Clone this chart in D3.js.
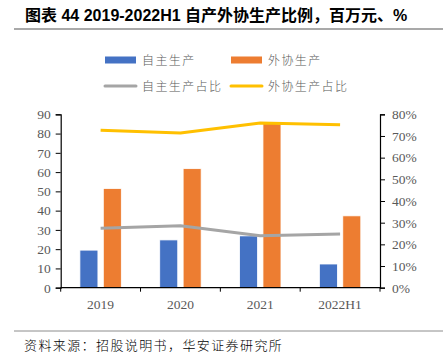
<!DOCTYPE html>
<html><head><meta charset="utf-8">
<script src="https://cdn.jsdelivr.net/npm/d3@7"></script>
<style>
html,body{margin:0;padding:0;background:#fff;}
svg{display:block;}
</style></head>
<body>
<svg id="c" width="443" height="356"></svg>
<script>
const categories = ["2019", "2020", "2021", "2022H1"];
const selfProd = [19.5, 24.8, 26.9, 12.3];
const outProd = [51.5, 61.8, 85.5, 37.3];
const selfShare = [27.4, 28.6, 24.0, 24.8];
const outShare = [72.6, 71.4, 76.0, 75.2];
const leftTicks = [0,10,20,30,40,50,60,70,80,90];
const rightTicks = [0,0.1,0.2,0.3,0.4,0.5,0.6,0.7,0.8];
const seriesNames = ["自主生产", "外协生产", "自主生产占比", "外协生产占比"];
const titleText = "图表 44 2019-2022H1 自产外协生产比例，百万元、%";
const sourceText = "资料来源：招股说明书，华安证券研究所";

const svg = d3.select("#c");
const L = 60.7, R = 380, T = 114.3, B = 287.7;
const cjk = "'Noto Sans CJK SC', sans-serif";
const serif = "'Liberation Serif', 'Times New Roman', serif";
const txtCol = "#595959";

// title
svg.append("text").attr("x", 25).attr("y", 21)
  .style("font-family", "'Liberation Sans', 'Noto Sans CJK SC', sans-serif")
  .style("font-weight", "bold").style("font-size", "16px").attr("fill", "#000")
  .text(titleText);
svg.append("line").attr("x1", 14).attr("x2", 443).attr("y1", 29).attr("y2", 29)
  .attr("stroke", "#8c8c8c").attr("stroke-width", 1.5);

const x0 = d3.scaleBand().domain(categories).range([L, R]).padding(0);
const x1 = d3.scaleBand().domain([0, 1]).range([0, x0.bandwidth()]).paddingInner(0.23).paddingOuter(0.82);
const yL = d3.scaleLinear().domain([0, 90]).range([B, T]);
const yR = d3.scaleLinear().domain([0, 0.8]).range([B, T]);

// bars
const g = svg.append("g");
const colors = ["#4472C4", "#ED7D31"];
[selfProd, outProd].forEach((arr, si) => {
  g.selectAll(null).data(arr).enter().append("rect")
    .attr("x", (d, i) => x0(categories[i]) + x1(si))
    .attr("width", x1.bandwidth())
    .attr("y", d => yL(d))
    .attr("height", d => B - yL(d))
    .attr("fill", colors[si])
    .attr("stroke", "#fff").attr("stroke-width", 0.8);
});

// lines
const lineGen = arr => d3.line()
  .x((d, i) => x0(categories[i]) + x0.bandwidth() / 2)
  .y(d => yR(d / 100))(arr);
svg.append("path").attr("d", lineGen(selfShare)).attr("fill", "none")
  .attr("stroke", "#A5A5A5").attr("stroke-width", 3).attr("stroke-linejoin", "round");
svg.append("path").attr("d", lineGen(outShare)).attr("fill", "none")
  .attr("stroke", "#FFC000").attr("stroke-width", 3).attr("stroke-linejoin", "round");

// axes
const axL = d3.axisLeft(yL).tickValues(leftTicks).tickSize(5).tickPadding(5).tickFormat(d3.format("d"));
const axR = d3.axisRight(yR).tickValues(rightTicks).tickSize(5).tickPadding(7).tickFormat(d3.format(".0%"));
const gl = svg.append("g").attr("transform", `translate(${L},0)`).call(axL);
const gr = svg.append("g").attr("transform", `translate(${R},0)`).call(axR);
const axB = d3.axisBottom(x0).tickSize(0).tickPadding(12);
const gb = svg.append("g").attr("transform", `translate(0,${B})`).call(axB);
// boundary ticks on x axis
const bounds = categories.map(c => x0(c)).concat([R]);
svg.append("g").selectAll("line").data(bounds).enter().append("line")
  .attr("x1", d => d).attr("x2", d => d).attr("y1", B).attr("y2", B + 4)
  .attr("stroke", "#000").attr("stroke-width", 1);

[gl, gr, gb].forEach(a => {
  a.select(".domain").attr("stroke", "#000").attr("stroke-width", 1.2);
  a.selectAll(".tick line").attr("stroke", "#000");
  a.selectAll("text").style("font-family", serif).style("font-size", "13.5px").attr("fill", txtCol);
});
gb.select(".domain").attr("d", `M${L},0H${R}`);

// legend
const leg = svg.append("g");
const legItems = [
  {x: 105, y: 60, type: "rect", color: "#4472C4", name: seriesNames[0]},
  {x: 231, y: 60, type: "rect", color: "#ED7D31", name: seriesNames[1]},
  {x: 105, y: 86, type: "line", color: "#A5A5A5", name: seriesNames[2]},
  {x: 231, y: 86, type: "line", color: "#FFC000", name: seriesNames[3]}
];
legItems.forEach(it => {
  if (it.type === "rect") {
    leg.append("rect").attr("x", it.x).attr("y", it.y - 3.5).attr("width", 31).attr("height", 7).attr("fill", it.color);
  } else {
    leg.append("line").attr("x1", it.x).attr("x2", it.x + 31).attr("y1", it.y).attr("y2", it.y)
      .attr("stroke", it.color).attr("stroke-width", 3).attr("stroke-linecap", "round");
  }
  leg.append("text").attr("x", it.x + 37).attr("y", it.y + 4.5)
    .style("font-family", cjk).style("font-size", "12px").style("font-weight", 300)
    .style("letter-spacing", "1.4px")
    .attr("fill", txtCol).text(it.name);
});

// source
svg.append("line").attr("x1", 14).attr("x2", 443).attr("y1", 331).attr("y2", 331)
  .attr("stroke", "#8c8c8c").attr("stroke-width", 1);
svg.append("text").attr("x", 24).attr("y", 350)
  .style("font-family", cjk).style("font-size", "13px").style("font-weight", 300)
  .style("letter-spacing", "1.4px")
  .attr("fill", "#000").text(sourceText);
</script>
</body></html>
